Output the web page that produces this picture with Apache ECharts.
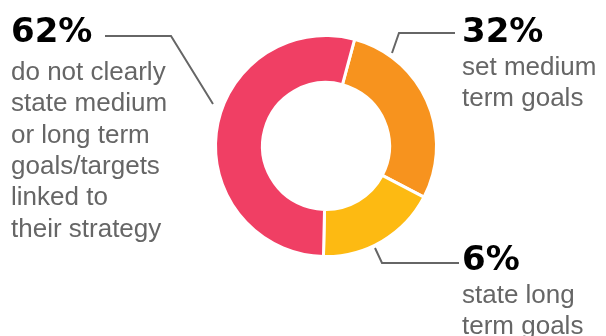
<!DOCTYPE html>
<html>
<head>
<meta charset="utf-8">
<script src="https://cdn.jsdelivr.net/npm/echarts@6/dist/echarts.min.js"></script>
<style>
html,body{margin:0;padding:0;background:#fff;}
#main{width:606px;height:336px;}
</style>
</head>
<body>
<div id="main"></div>
<script>
// slices as drawn (clockwise from just right of 12 o'clock)
var sliceNames = ['set medium term goals', 'state long term goals', 'do not clearly state medium or long term goals/targets linked to their strategy'];
var sliceValues = [28.5, 17.7, 53.8];
var sliceColors = ['#F7931E', '#FDBA12', '#F03F64'];
// printed labels
var pctLabels = ['32%', '6%', '62%'];
var bodyLabels = [
    'set medium\nterm goals',
    'state long\nterm goals',
    'do not clearly\nstate medium\nor long term\ngoals/targets\nlinked to\ntheir strategy'
];

var myChart = echarts.init(document.getElementById('main'));

var pieData = [];
for (var i = 0; i < sliceValues.length; i++) {
    pieData.push({name: sliceNames[i], value: sliceValues[i], itemStyle: {color: sliceColors[i]}});
}

var pctFont = 'bold 34px "DejaVu Sans"';
var bodyFont = '26px "Liberation Sans"';

function pctText(x, y, txt) {
    return {type: 'text', left: x, top: y, style: {text: txt, font: pctFont, fill: '#000', textVerticalAlign: 'top'}};
}
function bodyText(x, y, txt) {
    return {type: 'text', left: x, top: y, style: {text: txt, font: bodyFont, fill: '#666666', lineHeight: 31.4, textVerticalAlign: 'top'}};
}
function leader(pts) {
    return {type: 'polyline', shape: {points: pts}, style: {stroke: '#666666', lineWidth: 2, fill: null}};
}

option = {
    animation: false,
    series: [{
        type: 'pie',
        center: [326, 146],
        radius: [63.5, 110.5],
        startAngle: 75,
        clockwise: true,
        label: {show: false},
        labelLine: {show: false},
        silent: true,
        itemStyle: {borderColor: '#fff', borderWidth: 3},
        data: pieData
    }],
    graphic: [
        leader([[105, 36], [171, 36], [213, 104]]),
        leader([[392, 53], [399, 33], [455, 33]]),
        leader([[375, 248], [382, 263], [459, 263]]),
        pctText(11, 16, pctLabels[2]),
        bodyText(11, 57, bodyLabels[2]),
        pctText(462, 16, pctLabels[0]),
        bodyText(462, 52, bodyLabels[0]),
        pctText(462, 244, pctLabels[1]),
        bodyText(462, 280, bodyLabels[1])
    ]
};
myChart.setOption(option);
</script>
</body>
</html>
